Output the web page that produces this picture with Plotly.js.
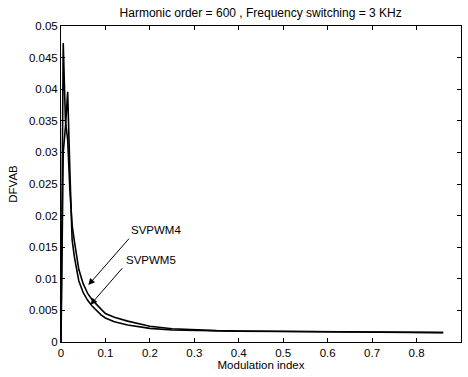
<!DOCTYPE html>
<html>
<head>
<meta charset="utf-8">
<script src="https://cdn.plot.ly/plotly-3.0.1.min.js"></script>
<style>html,body{margin:0;padding:0;background:#fff;}#chart{width:468px;height:377px;}</style>
</head>
<body>
<div id="chart"></div>
<script>
var modIndex = [0, 0.005, 0.01, 0.015, 0.02, 0.025, 0.03, 0.035, 0.04, 0.05, 0.06, 0.07, 0.08, 0.09, 0.1, 0.12, 0.15, 0.2, 0.25, 0.3, 0.35, 0.4, 0.5, 0.56, 0.6, 0.7, 0.74, 0.78, 0.86];
var svpwm4 = [0, 0.0473, 0.035, 0.032, 0.024, 0.0185, 0.016, 0.0135, 0.0115, 0.0092, 0.0077, 0.0067, 0.0059, 0.0052, 0.0045, 0.0039, 0.0033, 0.0025, 0.0021, 0.0019, 0.0018, 0.00175, 0.0017, 0.00168, 0.00165, 0.0016, 0.00158, 0.00152, 0.0015];
var svpwm5 = [0, 0.03, 0.034, 0.0396, 0.027, 0.0162, 0.0135, 0.0113, 0.0097, 0.0078, 0.0066, 0.0057, 0.005, 0.0043, 0.0038, 0.0032, 0.0027, 0.00215, 0.0019, 0.0018, 0.00172, 0.0017, 0.00165, 0.00163, 0.0016, 0.00158, 0.00155, 0.0015, 0.00148];
var xTickVals = [0, 0.1, 0.2, 0.3, 0.4, 0.5, 0.6, 0.7, 0.8, 0.9];
var xTickText = ["0", "0.1", "0.2", "0.3", "0.4", "0.5", "0.6", "0.7", "0.8", "0.9"];
var yTickVals = [0, 0.005, 0.01, 0.015, 0.02, 0.025, 0.03, 0.035, 0.04, 0.045, 0.05];
var yTickText = ["0", "0.005", "0.01", "0.015", "0.02", "0.025", "0.03", "0.035", "0.04", "0.045", "0.05"];
var seriesNames = ["SVPWM4", "SVPWM5"];

var font = {family: "Liberation Sans, Arial, sans-serif", size: 11.5, color: "#000"};
var titleFont = {family: "Liberation Sans, Arial, sans-serif", size: 12, color: "#000"};

var traces = [
  {x: modIndex, y: svpwm4, mode: "lines", name: seriesNames[0], line: {color: "#000", width: 1.6}},
  {x: modIndex, y: svpwm5, mode: "lines", name: seriesNames[1], line: {color: "#000", width: 1.6}}
];

var axisCommon = {
  showline: true, linecolor: "#000", linewidth: 1, mirror: "ticks",
  ticks: "inside", ticklen: 4, tickcolor: "#000", tickwidth: 1,
  showgrid: false, zeroline: false, tickfont: font, automargin: false
};

var layout = {
  width: 468, height: 377,
  margin: {l: 61, r: 7, t: 26, b: 35},
  paper_bgcolor: "#fff", plot_bgcolor: "#fff",
  showlegend: false,
  font: font,
  title: {text: "Harmonic order = 600 , Frequency switching = 3 KHz", font: titleFont, x: 0.557, xanchor: "center", y: 0.965, yanchor: "middle"},
  xaxis: Object.assign({}, axisCommon, {range: [0, 0.9], tickvals: xTickVals, ticktext: xTickText,
    title: {text: "Modulation index", font: font, standoff: 2}}),
  yaxis: Object.assign({}, axisCommon, {range: [0, 0.05], tickvals: yTickVals, ticktext: yTickText,
    title: {text: "DFVAB", font: font, standoff: 8}}),
  annotations: [
    {x: 0.0615, y: 0.009, xref: "x", yref: "y", text: "", showarrow: true,
     ax: 42, ay: -48, arrowhead: 2, arrowsize: 1.3, arrowwidth: 1, arrowcolor: "#000"},
    {x: 0.0665, y: 0.0059, xref: "x", yref: "y", text: "", showarrow: true,
     ax: 33, ay: -38, arrowhead: 2, arrowsize: 1.3, arrowwidth: 1, arrowcolor: "#000"},
    {x: 0.154, y: 0.0177, xref: "x", yref: "y", text: seriesNames[0], showarrow: false,
     xanchor: "left", yanchor: "middle", font: font},
    {x: 0.141, y: 0.0130, xref: "x", yref: "y", text: seriesNames[1], showarrow: false,
     xanchor: "left", yanchor: "middle", font: font}
  ]
};

Plotly.newPlot("chart", traces, layout, {staticPlot: true, displayModeBar: false});
</script>
</body>
</html>
